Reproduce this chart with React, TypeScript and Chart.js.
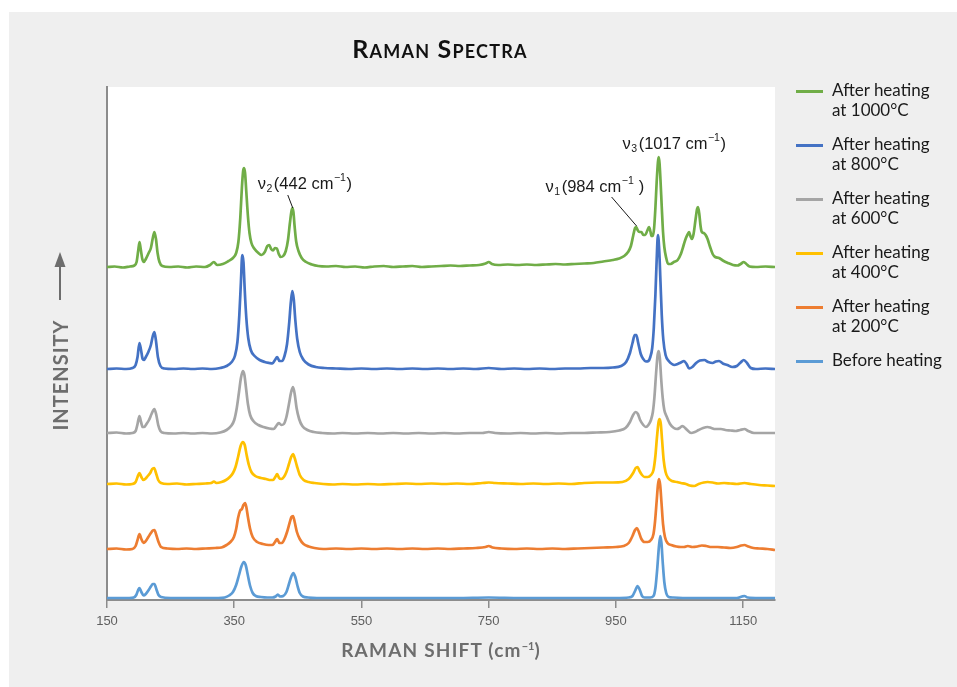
import React, { useEffect, useRef } from 'react';
import { Chart, registerables } from 'chart.js';

Chart.register(...registerables);

// ---------- data ----------
const xTicks = [150, 350, 550, 750, 950, 1150];
const xMin = 150;
const xMax = 1200;
const yMin = 0;
const yMax = 513;

const legendLine1 = ['After heating', 'After heating', 'After heating', 'After heating', 'After heating', 'Before heating'];
const legendLine2 = ['at 1000°C', 'at 800°C', 'at 600°C', 'at 400°C', 'at 200°C', ''];
const seriesColors = ['#70ad47', '#4472c4', '#a5a5a5', '#ffc000', '#ed7d31', '#5b9bd5'];

const after1000: [number, number][] = [
  [150, 333], [162, 333.5], [175, 332.5], [186, 333.5], [193, 334.5], [196.5, 338], [199, 349], [201, 358], [203, 351], [205.5, 341], [208, 338], [211, 341], [215.5, 347], [219, 352], [222, 362], [224.5, 368], [227, 361], [229.5, 347], [232.5, 338], [237, 334], [248, 333], [262, 333.5], [276, 332.5], [290, 333.5], [304, 333], [312, 335], [318, 338], [323, 335], [332, 336], [341, 339], [348, 342], [353, 347], [356.5, 358], [359.5, 382], [362, 412], [364, 429], [365.5, 432], [367, 427], [369, 408], [371.5, 384], [374, 367], [377, 357], [382, 351], [388, 347], [393, 345], [398, 348], [402, 354], [405, 355], [408, 351], [411, 349.5], [414, 352], [417, 351.5], [420, 346], [423, 343], [427, 344], [431, 349], [434.5, 360], [437.5, 377], [440, 389], [441.5, 392], [443, 388], [445, 373], [447.5, 358], [451, 349], [456, 342], [463, 338], [472, 335.5], [482, 334], [495, 333.5], [510, 334], [525, 333], [540, 333.5], [555, 332.5], [570, 333.5], [585, 334], [600, 333], [615, 333.5], [630, 334], [645, 333], [660, 333.5], [675, 334], [690, 334.5], [705, 334], [720, 334.5], [735, 335], [745, 336.5], [750, 338], [755, 336], [765, 335], [780, 335.5], [795, 335], [810, 335.5], [825, 335], [840, 335.5], [855, 336], [870, 335.5], [885, 336], [900, 336.5], [915, 337], [930, 338.5], [945, 340], [955, 341.5], [963, 344], [969, 348], [973.5, 354], [977, 364], [980, 372], [982, 373], [984, 370], [987, 368], [990, 368], [993, 365], [996, 365], [999, 369], [1002, 373], [1004, 369], [1006, 364], [1008, 364], [1010, 372], [1012, 392], [1014, 418], [1016, 438], [1017.2, 443], [1018.5, 437], [1020, 420], [1022, 393], [1024, 368], [1026, 353], [1029, 342], [1032, 336], [1036, 336], [1041, 338], [1047, 340], [1052, 346], [1056, 354], [1060, 362], [1063, 366], [1065, 368], [1067, 364], [1069.5, 361], [1072, 366], [1075, 380], [1077.5, 391], [1079, 393], [1081, 386], [1083, 374], [1085, 368], [1088, 367], [1091, 365], [1094, 361], [1098, 353], [1102, 346], [1106, 343], [1112, 342], [1118, 339.5], [1126, 337], [1134, 335], [1141, 334.5], [1146, 336], [1151, 338], [1155, 336], [1160, 333.5], [1170, 333], [1185, 333.5], [1200, 333],
];

const after800: [number, number][] = [
  [150, 231], [165, 231.5], [180, 231], [190, 232], [195, 235], [198, 243], [201, 257], [203.5, 250], [206, 241], [208, 240], [211, 243], [215, 248], [219, 255], [222, 264], [224.5, 268], [227, 259], [230, 243], [234, 234], [240, 231.5], [255, 231], [270, 231.5], [285, 231], [300, 231.5], [315, 231], [328, 232], [338, 234], [346, 238], [351, 244], [355, 258], [358, 285], [360.5, 318], [362.6, 345], [364.5, 338], [366.5, 310], [369, 282], [372, 262], [376, 250], [382, 244], [390, 240], [398, 238], [405, 237], [410, 236.5], [414, 240], [417.5, 243], [421, 239], [425, 239], [429, 244], [433, 256], [436.5, 278], [439, 298], [441.3, 309], [443.5, 301], [446, 280], [449, 261], [453, 248], [459, 240], [467, 235.5], [478, 233], [492, 232], [510, 231.5], [530, 231], [550, 231.5], [570, 231], [590, 231.5], [610, 231], [630, 231.5], [650, 231], [670, 231.5], [690, 231], [710, 231.5], [730, 231], [750, 232], [770, 231], [790, 231.5], [810, 231], [830, 231.5], [850, 231], [870, 231.5], [890, 231.5], [910, 232], [930, 232], [945, 232.5], [958, 234], [966, 238], [972, 247], [976, 257], [979.5, 265], [982, 265], [985, 257], [989, 246], [993, 241], [997, 238.5], [1001, 239], [1004, 243], [1007, 252], [1009.5, 272], [1012, 305], [1014, 340], [1016, 365], [1018, 350], [1020, 318], [1022, 285], [1024.5, 260], [1028, 245], [1033, 239], [1038, 236], [1042, 235], [1047, 236], [1052, 237.5], [1057, 239], [1061, 236], [1065, 231.5], [1070, 233], [1076, 237], [1082, 239.5], [1089, 240], [1095, 238], [1102, 237], [1107, 238.5], [1112, 239], [1118, 236.5], [1125, 235], [1133, 233], [1140, 234], [1146, 237.5], [1151, 240], [1156, 237], [1162, 232], [1170, 231], [1185, 231.5], [1200, 231],
];

const after600: [number, number][] = [
  [150, 167], [165, 167.5], [180, 166.5], [190, 167], [195, 169], [198, 176], [201, 184], [203.5, 178], [206, 173], [208.5, 173], [212, 176], [216, 180], [220, 186], [224.5, 191], [227.5, 185], [230.5, 175], [234, 169], [240, 167], [255, 166.5], [270, 167], [285, 166.5], [300, 167], [315, 166.5], [328, 167.5], [338, 170], [345, 174], [350, 180], [354, 192], [357.5, 208], [360.5, 222], [363.5, 229], [366, 225], [368.5, 212], [371.5, 196], [375, 185], [380, 179], [388, 175], [396, 173], [405, 171.5], [412, 171], [416, 174], [420, 177], [424, 175], [428, 176], [432, 183], [436, 196], [439.5, 208], [442.4, 213], [445, 206], [448, 192], [452, 181], [457, 174], [465, 170], [475, 168], [488, 167], [505, 166.5], [520, 167], [540, 166.5], [560, 167], [580, 166.5], [600, 167], [620, 166.5], [640, 167], [660, 166.5], [680, 167], [700, 166.5], [720, 167], [740, 167], [750, 168], [760, 167], [780, 166.5], [800, 167], [820, 166.5], [840, 167], [860, 166.5], [880, 167], [900, 167], [920, 167.5], [940, 168], [955, 169.5], [965, 172], [972, 178], [977, 185], [981, 188], [984.5, 186], [988, 180], [993, 175], [997, 173], [1001, 175], [1005, 180], [1008, 188], [1010.5, 203], [1013, 226], [1015.5, 245], [1017.2, 249], [1019, 242], [1021, 222], [1023.5, 202], [1026, 190], [1030, 183], [1035, 176], [1041, 172], [1046, 171], [1050, 172], [1054, 174], [1057, 173], [1062, 170], [1068, 167], [1074, 168], [1080, 170], [1087, 172], [1094, 173], [1100, 172], [1106, 171], [1115, 171], [1122, 170], [1130, 169.5], [1138, 169], [1145, 170], [1152, 171], [1158, 169], [1167, 167], [1180, 167], [1200, 167],
];

const after400: [number, number][] = [
  [150, 116], [165, 116.5], [180, 115.5], [190, 116], [195, 118], [198, 123], [201, 127], [204, 123], [207, 120], [210, 121], [214, 124], [218, 127], [221, 131], [224, 132], [227, 127], [230.5, 120], [235, 117], [245, 116], [260, 116.5], [275, 115.5], [290, 116], [305, 116.5], [314, 117], [318, 118.5], [322, 117], [330, 118], [337, 120], [343, 123], [348, 127], [352, 133], [356, 143], [360, 154], [363.5, 158], [366.5, 155], [369.5, 145], [373, 135], [377, 128], [383, 124], [392, 122], [400, 121], [407, 120], [411, 120], [414.5, 123], [417.5, 126], [420.5, 122], [424, 121], [428, 123], [432, 128], [436, 136], [439.5, 143], [442.4, 146], [445, 142], [448.5, 134], [453, 125], [459, 120], [467, 118], [476, 117], [490, 116], [505, 115.5], [520, 116], [540, 115.5], [560, 116], [580, 115.5], [600, 116], [620, 116.5], [640, 116], [660, 116.5], [680, 116], [700, 116.5], [720, 116], [740, 117], [750, 117.5], [760, 117], [780, 116.5], [800, 116], [820, 116.5], [840, 116], [860, 116.5], [880, 116], [900, 117], [920, 117.5], [945, 117.5], [960, 118], [970, 121], [977, 127], [981, 132], [984, 133], [987, 129], [991, 125], [995, 123], [1000, 123], [1005, 125], [1009, 130], [1012, 144], [1014.5, 163], [1017, 178], [1018.7, 181], [1020.5, 176], [1022.5, 160], [1025, 140], [1028, 128], [1032, 122], [1038, 119], [1046, 118], [1052, 117], [1060, 116], [1066, 114.5], [1073, 114], [1080, 116], [1088, 117.5], [1094, 118], [1102, 117.5], [1110, 116.5], [1120, 117], [1130, 116.5], [1140, 116], [1152, 117], [1162, 116], [1175, 115], [1188, 114.5], [1200, 114],
];

const after200: [number, number][] = [
  [150, 51], [165, 51.5], [180, 50.5], [190, 51], [195, 54], [198, 60], [201, 66], [204, 61], [207.5, 57], [211, 59], [215, 63], [219, 67], [222, 69.5], [224.5, 70], [227.5, 65], [231, 58], [235, 53], [245, 51.5], [260, 51], [275, 51.5], [290, 51], [305, 51.5], [320, 52], [330, 52.5], [338, 55], [344, 58], [349.5, 63], [353, 71], [356, 82], [359, 89], [362, 91], [364.5, 95], [367, 97], [369, 93], [371.5, 83], [375, 71], [379, 63], [386, 58], [395, 56], [404, 55], [410, 55], [414, 58], [417.5, 61], [421, 57], [425, 57], [429, 61], [433, 68], [437, 77], [440, 83], [442.4, 84], [445, 78], [448.5, 68], [453, 61], [459, 56], [467, 53.5], [476, 52], [490, 51], [510, 51.5], [530, 51], [550, 51.5], [570, 51], [590, 51.5], [610, 51], [630, 51.5], [650, 51], [670, 51.5], [690, 51], [710, 51.5], [730, 52], [745, 53], [750, 54], [756, 52.5], [770, 51.5], [790, 51], [810, 51.5], [830, 51], [850, 51.5], [870, 51], [890, 51.5], [910, 52], [930, 52.5], [950, 53], [962, 54], [970, 57], [976, 64], [980, 70], [983, 72], [986, 68], [990, 61], [995, 58], [1000, 58], [1005, 60], [1009, 66], [1011.5, 79], [1014, 99], [1016, 115], [1017.6, 121], [1019.5, 115], [1021.5, 98], [1024, 76], [1027, 63], [1031, 57], [1037, 55], [1045, 53.5], [1052, 53], [1057, 53], [1063, 54], [1070, 53], [1078, 53.5], [1085, 54.5], [1092, 54], [1100, 53], [1110, 53], [1120, 52.5], [1130, 52], [1140, 53], [1147, 54.5], [1152, 55], [1158, 53.5], [1166, 52], [1175, 51.5], [1188, 51], [1200, 50],
];

const beforeHeating: [number, number][] = [
  [150, 2], [170, 2], [185, 2], [192, 2.5], [196, 5], [199, 10], [201, 12], [204, 8], [207.5, 4.5], [211, 6], [215, 9.5], [219, 13.5], [222, 16], [224.5, 16], [227.5, 11], [231, 5], [235, 3], [250, 2], [270, 2], [290, 2], [310, 2], [325, 2], [335, 2.5], [342, 4.5], [348, 8], [353, 15], [357.5, 25], [361.5, 34], [365, 38], [368, 35], [371, 26], [375, 14], [379, 7], [384, 4], [392, 3], [402, 2.5], [410, 2.5], [415, 3.5], [418.5, 5.5], [422, 3.5], [427, 4], [432, 8], [436, 16], [440, 24], [443, 27], [446, 23], [449.5, 14], [453, 7], [458, 3.5], [466, 2.5], [480, 2], [500, 2], [550, 2], [600, 2], [650, 2], [700, 2], [750, 2.5], [800, 2], [850, 2], [900, 2], [950, 2], [970, 2.5], [976, 4], [980, 9], [984, 14], [987.5, 10], [991, 4], [995, 2.5], [1004, 2.5], [1009, 4], [1012, 12], [1015, 32], [1017.5, 53], [1019.7, 64], [1021.5, 57], [1023.5, 38], [1026, 18], [1029, 7], [1033, 3], [1040, 2.5], [1060, 2], [1100, 2], [1140, 2], [1148, 3.5], [1152, 4], [1157, 2.5], [1175, 2], [1200, 2],
];

const seriesData = [after1000, after800, after600, after400, after200, beforeHeating];

// annotation anchors: [wavenumber, intensity]
const nu2Peak: [number, number] = [442, 392];
const nu1Peak: [number, number] = [984, 373];
const nu3Peak: [number, number] = [1017, 443];

// ---------- plugins ----------
const bgPlugin = {
  id: 'plotBg',
  beforeDraw(chart: any) {
    const { ctx, chartArea: a } = chart;
    ctx.save();
    ctx.fillStyle = '#ffffff';
    ctx.fillRect(a.left, a.top, a.right - a.left, a.bottom - a.top);
    ctx.restore();
  },
};

function drawNuLabel(ctx: CanvasRenderingContext2D, x: number, y: number, sub: string, main: string, tail: string) {
  const big = '16.5px "Liberation Sans", Arial, sans-serif';
  const small = '10.5px "Liberation Sans", Arial, sans-serif';
  ctx.textAlign = 'left';
  ctx.textBaseline = 'middle';
  ctx.fillStyle = '#1a1a1a';
  ctx.font = big;
  ctx.fillText('ν', x, y);
  let cx = x + ctx.measureText('ν').width + 0.5;
  ctx.font = small;
  ctx.fillText(sub, cx, y + 5);
  cx += ctx.measureText(sub).width + 1.5;
  ctx.font = big;
  ctx.fillText(main, cx, y);
  cx += ctx.measureText(main).width;
  ctx.font = small;
  ctx.fillText('−1', cx + 0.5, y - 6);
  cx += ctx.measureText('−1').width + 1;
  ctx.font = big;
  ctx.fillText(tail, cx, y);
}

const annPlugin = {
  id: 'ramanAnnotations',
  afterDatasetsDraw(chart: any) {
    const { ctx, scales } = chart;
    const xs = scales.x;
    const ys = scales.y;
    ctx.save();
    // nu2
    const p2x = xs.getPixelForValue(nu2Peak[0]);
    const p2y = ys.getPixelForValue(nu2Peak[1]);
    ctx.strokeStyle = '#1a1a1a';
    ctx.lineWidth = 1;
    ctx.beginPath();
    ctx.moveTo(p2x - 5, p2y - 13);
    ctx.lineTo(p2x, p2y);
    ctx.stroke();
    drawNuLabel(ctx, p2x - 35, p2y - 24, '2', '(442 cm', ')');
    // nu1
    const p1x = xs.getPixelForValue(nu1Peak[0]);
    const p1y = ys.getPixelForValue(nu1Peak[1]);
    ctx.beginPath();
    ctx.moveTo(p1x - 26, p1y - 30);
    ctx.lineTo(p1x - 1, p1y - 1);
    ctx.stroke();
    drawNuLabel(ctx, p1x - 92, p1y - 40, '1', '(984 cm', ' )');
    // nu3
    const p3x = xs.getPixelForValue(nu3Peak[0]);
    const p3y = ys.getPixelForValue(nu3Peak[1]);
    drawNuLabel(ctx, p3x - 36, p3y - 13, '3', '(1017 cm', ')');
    ctx.restore();
  },
};

// ---------- component ----------
export default function App() {
  const canvasRef = useRef<HTMLCanvasElement>(null);

  useEffect(() => {
    const canvas = canvasRef.current;
    if (!canvas) return;
    const chart = new Chart(canvas, {
      type: 'line',
      data: {
        datasets: seriesData.map((d, i) => ({
          label: (legendLine1[i] + ' ' + legendLine2[i]).trim(),
          data: d.map(([x, y]) => ({ x, y })),
          borderColor: seriesColors[i],
          backgroundColor: seriesColors[i],
          borderWidth: 2.7,
          pointRadius: 0,
          fill: false,
          cubicInterpolationMode: 'monotone' as const,
        })),
      },
      options: {
        responsive: false,
        animation: false,
        devicePixelRatio: 1,
        layout: { padding: { left: 0, top: 87, right: 182, bottom: 0 } },
        plugins: {
          legend: { display: false },
          title: { display: false },
          tooltip: { enabled: false },
        },
        scales: {
          x: {
            type: 'linear',
            min: xMin,
            max: xMax,
            afterBuildTicks: (s: any) => {
              s.ticks = xTicks.map((v) => ({ value: v }));
            },
            afterFit: (s: any) => {
              s.height = 87;
            },
            ticks: {
              autoSkip: false,
              maxRotation: 0,
              padding: 6,
              color: '#5f5f5f',
              font: { family: '"Liberation Sans", Arial, sans-serif', size: 13 },
              callback: (v: any) => String(v),
            },
            grid: { drawOnChartArea: false, drawTicks: true, tickLength: 8, color: '#8c8c8c', lineWidth: 1.5 },
            border: { color: '#8c8c8c', width: 2 },
          },
          y: {
            type: 'linear',
            min: yMin,
            max: yMax,
            afterFit: (s: any) => {
              s.width = 107;
            },
            ticks: { display: false },
            grid: { drawOnChartArea: false, drawTicks: false },
            border: { color: '#8c8c8c', width: 2 },
          },
        },
      },
      plugins: [bgPlugin, annPlugin],
    } as any);
    return () => chart.destroy();
  }, []);

  const legendFont = 'Lato, "Open Sans", sans-serif';

  return (
    <div style={{ position: 'fixed', left: 0, top: 0, width: 957, height: 687, background: '#ffffff', overflow: 'hidden' }}>
      <div style={{ position: 'absolute', left: 9, top: 12, width: 948, height: 675, background: '#efefef' }} />
      <canvas ref={canvasRef} width={957} height={687} style={{ position: 'absolute', left: 0, top: 0, display: 'block' }} />
      <div
        style={{
          position: 'absolute', left: 240, top: 33, width: 400, lineHeight: '30px', textAlign: 'center',
          fontFamily: legendFont, fontWeight: 700, fontSize: 25, letterSpacing: 1.2, fontVariant: 'small-caps', color: '#111',
        }}
      >
        Raman Spectra
      </div>
      <div
        style={{
          position: 'absolute', left: 241, top: 638, width: 400, lineHeight: '24px', textAlign: 'center',
          fontFamily: legendFont, fontWeight: 700, fontSize: 19, letterSpacing: 1.2, color: '#6d6d6d', whiteSpace: 'nowrap',
        }}
      >
        RAMAN SHIFT (cm<span style={{ fontSize: 11, position: 'relative', top: -7, letterSpacing: 0 }}>−1</span>)
      </div>
      <div
        style={{
          position: 'absolute', left: 0, top: 364, width: 120, height: 22, lineHeight: '22px', textAlign: 'center',
          transform: 'rotate(-90deg)', transformOrigin: '60px 11px',
          fontFamily: legendFont, fontWeight: 700, fontSize: 20, letterSpacing: 1, color: '#6d6d6d', whiteSpace: 'nowrap',
        }}
      >
        INTENSITY
      </div>
      <svg width={20} height={60} style={{ position: 'absolute', left: 50, top: 248 }}>
        <line x1={10} y1={52} x2={10} y2={14} stroke="#6d6d6d" strokeWidth={2} />
        <polygon points="10,4 4.5,19 15.5,19" fill="#6d6d6d" />
      </svg>
      {legendLine1.map((t, i) => (
        <div key={i} style={{ position: 'absolute', left: 796, top: 80 + i * 54, width: 161 }}>
          <div style={{ position: 'absolute', left: 0, top: 9.5, width: 27, height: 3, background: seriesColors[i] }} />
          <div
            style={{
              position: 'absolute', left: 36, top: 0, lineHeight: '20px', fontSize: 17,
              fontFamily: legendFont, color: '#1a1a1a', whiteSpace: 'nowrap',
            }}
          >
            <div>{t}</div>
            {legendLine2[i] ? <div>{legendLine2[i]}</div> : null}
          </div>
        </div>
      ))}
    </div>
  );
}
